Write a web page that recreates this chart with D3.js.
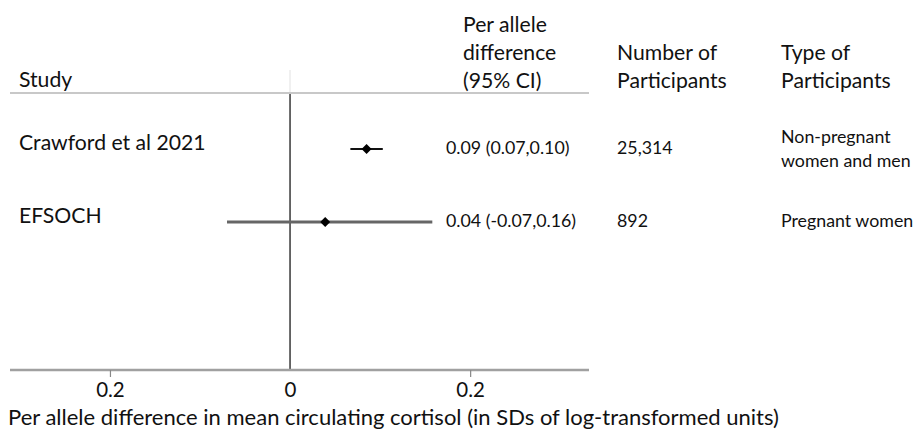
<!DOCTYPE html>
<html><head><meta charset="utf-8">
<script src="https://cdn.jsdelivr.net/npm/d3@7"></script>
<style>
body{margin:0;background:#fff;}
svg text{font-family:Lato, "Open Sans", sans-serif;fill:#111;}
</style></head>
<body><svg id="c" width="919" height="435"></svg>
<script>
const studies = ["Crawford et al 2021", "EFSOCH"];
const estimates = [0.085, 0.039];
const lower = [0.067, -0.070];
const upper = [0.103, 0.158];
const estimateLabels = ["0.09 (0.07,0.10)", "0.04 (-0.07,0.16)"];
const participants = ["25,314", "892"];
const participantTypes = [["Non-pregnant", "women and men"], ["Pregnant women"]];
const tickValues = [-0.2, 0, 0.2];
const tickLabels = ["0.2", "0", "0.2"];
const xTitle = "Per allele difference in mean circulating cortisol (in SDs of log-transformed units)";

const svg = d3.select("#c");
const x = d3.scaleLinear().domain([-0.311, 0.332]).range([10, 589]);
const y = d3.scalePoint().domain(studies).range([149, 222]);
const axisY = 370;

svg.append("line").attr("x1",10).attr("x2",589).attr("y1",93).attr("y2",93)
  .attr("stroke","#c8c8c8").attr("stroke-width",2);
svg.append("line").attr("x1",x(0)).attr("x2",x(0)).attr("y1",70).attr("y2",92)
  .attr("stroke","#f0f0f0").attr("stroke-width",2);
svg.append("line").attr("x1",x(0)).attr("x2",x(0)).attr("y1",94).attr("y2",axisY)
  .attr("stroke","#444").attr("stroke-width",1.6);

const ax = svg.append("g").attr("transform",`translate(0,${axisY})`)
  .call(d3.axisBottom(x).tickValues(tickValues).tickSize(7)
    .tickFormat((d,i)=>tickLabels[i]));
ax.select(".domain").attr("stroke","#a0a0a0").attr("stroke-width",2.5)
  .attr("d",`M${x.range()[0]},0H${x.range()[1]}`);
ax.selectAll(".tick line").attr("stroke","#888").attr("stroke-width",1.2);
ax.selectAll(".tick").filter(d=>d===0).select("line").remove();
ax.selectAll(".tick text").attr("y",27).attr("dy",0)
  .style("font-size","20.5px").style("font-family","Lato, sans-serif").attr("fill","#111");

svg.append("text").attr("x",8).attr("y",425).style("font-size","22px").text(xTitle);

const rows = studies.map((s,i)=>({s,i}));
svg.selectAll(".ci").data(rows).enter().append("line")
  .attr("x1",d=>x(lower[d.i])).attr("x2",d=>x(upper[d.i]))
  .attr("y1",d=>y(d.s)).attr("y2",d=>y(d.s))
  .attr("stroke",d=>d.i===0?"#111":"#666")
  .attr("stroke-width",d=>d.i===0?2:3);
svg.selectAll(".pt").data(rows).enter().append("path")
  .attr("d",d=>{const cx=x(estimates[d.i]), cy=y(d.s), r=5;
    return `M${cx-r},${cy}L${cx},${cy-r}L${cx+r},${cy}L${cx},${cy+r}Z`;})
  .attr("fill","#000");

const big = "21.2px", small = "17.8px";
svg.append("text").attr("x",19).attr("y",87).style("font-size",big).text("Study");
["Per allele","difference","(95% CI)"].forEach((t,i)=>svg.append("text").attr("x",463).attr("y",32+i*28).style("font-size",big).text(t));
["Number of","Participants"].forEach((t,i)=>svg.append("text").attr("x",617).attr("y",60+i*28).style("font-size",big).text(t));
["Type of","Participants"].forEach((t,i)=>svg.append("text").attr("x",781).attr("y",60+i*28).style("font-size",big).text(t));

rows.forEach(d=>{
  const yy = y(d.s);
  svg.append("text").attr("x",19).attr("y",yy+1).style("font-size",big).text(d.s);
  svg.append("text").attr("x",446).attr("y",yy+5).style("font-size",small).text(estimateLabels[d.i]);
  svg.append("text").attr("x",617).attr("y",yy+5).style("font-size",small).text(participants[d.i]);
  const tl = participantTypes[d.i];
  const startY = tl.length===1 ? yy+5 : yy-6;
  tl.forEach((t,j)=>svg.append("text").attr("x",781).attr("y",startY+j*24).style("font-size",small).text(t));
});
</script></body></html>
